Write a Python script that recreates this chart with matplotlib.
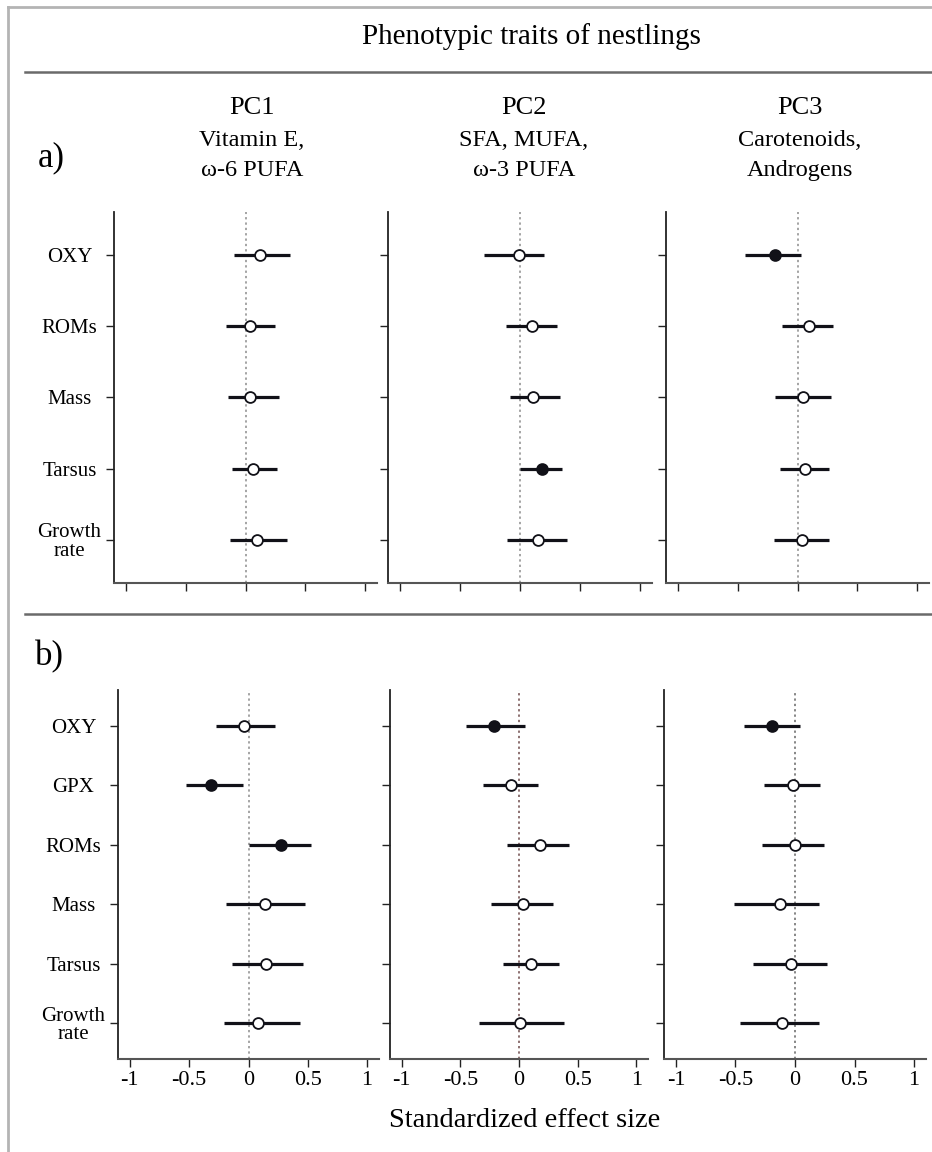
import matplotlib
matplotlib.use('Agg')
import matplotlib.pyplot as plt
from matplotlib.lines import Line2D
import numpy as np

plt.rcParams['font.family'] = ['Liberation Serif', 'DejaVu Serif']

# effect sizes (estimate, lower / upper CI, significant) per principal component
traits_a = ['OXY', 'ROMs', 'Mass', 'Tarsus', 'Growth\nrate']
traits_b = ['OXY', 'GPX', 'ROMs', 'Mass', 'Tarsus', 'Growth\nrate']

pc1_a_est = [0.12, 0.04, 0.04, 0.06, 0.10]
pc1_a_lo = [-0.10, -0.16, -0.15, -0.11, -0.13]
pc1_a_hi = [0.37, 0.25, 0.28, 0.26, 0.35]
pc1_a_sig = [False, False, False, False, False]

pc2_a_est = [-0.01, 0.10, 0.11, 0.18, 0.15]
pc2_a_lo = [-0.30, -0.12, -0.08, 0.00, -0.11]
pc2_a_hi = [0.20, 0.31, 0.33, 0.35, 0.39]
pc2_a_sig = [False, False, False, True, False]

pc3_a_est = [-0.19, 0.10, 0.05, 0.06, 0.04]
pc3_a_lo = [-0.44, -0.13, -0.19, -0.15, -0.20]
pc3_a_hi = [0.03, 0.30, 0.28, 0.26, 0.26]
pc3_a_sig = [True, False, False, False, False]

pc1_b_est = [-0.04, -0.32, 0.27, 0.14, 0.15, 0.08]
pc1_b_lo = [-0.27, -0.53, 0.00, -0.19, -0.14, -0.21]
pc1_b_hi = [0.22, -0.05, 0.53, 0.48, 0.46, 0.43]
pc1_b_sig = [False, True, True, False, False, False]

pc2_b_est = [-0.21, -0.07, 0.18, 0.03, 0.10, 0.01]
pc2_b_lo = [-0.45, -0.31, -0.10, -0.24, -0.14, -0.34]
pc2_b_hi = [0.05, 0.16, 0.43, 0.29, 0.34, 0.38]
pc2_b_sig = [True, False, False, False, False, False]

pc3_b_est = [-0.19, -0.02, 0.00, -0.13, -0.03, -0.11]
pc3_b_lo = [-0.43, -0.26, -0.28, -0.51, -0.35, -0.46]
pc3_b_hi = [0.04, 0.21, 0.24, 0.20, 0.27, 0.20]
pc3_b_sig = [True, False, False, False, False, False]

pc_titles = ['PC1', 'PC2', 'PC3']
pc_loadings = [['Vitamin E,', 'ω-6 PUFA'], ['SFA, MUFA,', 'ω-3 PUFA'], ['Carotenoids,', 'Androgens']]
x_ticks = [-1, -0.5, 0, 0.5, 1]
x_ticklabels = ['-1', '-0.5', '0', '0.5', '1']

W, H = 932, 1152
fig = plt.figure(figsize=(W / 100, H / 100), dpi=100)


def px_box(x0, x1, y0, y1):
    # pixel box (top-left origin) -> figure fraction rect
    return [x0 / W, 1 - y1 / H, (x1 - x0) / W, (y1 - y0) / H]


def fig_line(x0, x1, y0, y1, color, lw):
    fig.add_artist(Line2D([x0 / W, x1 / W], [1 - y0 / H, 1 - y1 / H],
                          transform=fig.transFigure, color=color, lw=lw))


def forest(ax, traits, est, lo, hi, sig, show_ylabels, show_xlabels, zero_color):
    y = np.arange(1, len(traits) + 1)
    ax.axvline(0, color=zero_color, lw=1.1, ls=(0, (1.5, 2)), zorder=1)
    ax.hlines(y, lo, hi, color='#111118', lw=2.3, zorder=2)
    for xi, yi, s in zip(est, y, sig):
        ax.plot(xi, yi, 'o', ms=7.8, mew=1.3, mec='#111118',
                mfc='#111118' if s else 'white', zorder=3)
    ax.set_xlim(-1.1, 1.1)
    ax.set_ylim(len(traits) + 0.6, 0.4)
    ax.set_yticks(y)
    ax.set_xticks(x_ticks)
    for side in ('top', 'right'):
        ax.spines[side].set_visible(False)
    ax.spines['left'].set_color('#222222')
    ax.spines['bottom'].set_color('#555555')
    ax.spines['left'].set_linewidth(1.3)
    ax.spines['bottom'].set_linewidth(1.5)
    ax.tick_params(axis='both', direction='out', length=6, width=1.0, color='#222222')
    if show_ylabels:
        ax.set_yticklabels(traits, fontsize=15, linespacing=0.95)
        ax.tick_params(axis='y', pad=26)
        for lbl in ax.get_yticklabels():
            lbl.set_ha('center')
    else:
        ax.set_yticklabels([])
    if show_xlabels:
        ax.set_xticklabels(x_ticklabels, fontsize=16)
        ax.tick_params(axis='x', pad=3)
    else:
        ax.set_xticklabels([])


rows_a = [
    (pc1_a_est, pc1_a_lo, pc1_a_hi, pc1_a_sig),
    (pc2_a_est, pc2_a_lo, pc2_a_hi, pc2_a_sig),
    (pc3_a_est, pc3_a_lo, pc3_a_hi, pc3_a_sig),
]
rows_b = [
    (pc1_b_est, pc1_b_lo, pc1_b_hi, pc1_b_sig),
    (pc2_b_est, pc2_b_lo, pc2_b_hi, pc2_b_sig),
    (pc3_b_est, pc3_b_lo, pc3_b_hi, pc3_b_sig),
]

cols_a = [(114, 377), (388, 652), (666, 929)]
cols_b = [(118, 379), (390, 648), (664, 926)]
zero_a = ['#8c8c8c', '#8c8c8c', '#8c8c8c']
zero_b = ['#8c8c8c', '#6e4a4a', '#666666']

for i, ((x0, x1), data) in enumerate(zip(cols_a, rows_a)):
    ax = fig.add_axes(px_box(x0, x1, 211.7, 582.7))
    forest(ax, traits_a, *data, show_ylabels=(i == 0), show_xlabels=False, zero_color=zero_a[i])

for i, ((x0, x1), data) in enumerate(zip(cols_b, rows_b)):
    ax = fig.add_axes(px_box(x0, x1, 690, 1058.7))
    forest(ax, traits_b, *data, show_ylabels=(i == 0), show_xlabels=True, zero_color=zero_b[i])

# frame and separators
fig_line(8, W, 7, 7, '#b4b4b4', 2)
fig_line(8, 8, 7, H, '#b4b4b4', 2)
fig_line(25, W, 72, 72, '#6a6a6a', 1.8)
fig_line(25, W, 614, 614, '#6a6a6a', 1.8)

fig.text(531 / W, 1 - 43.5 / H, 'Phenotypic traits of nestlings', fontsize=21,
         ha='center', va='baseline')

heading_x = [252, 524, 800]
for hx, title, lines in zip(heading_x, pc_titles, pc_loadings):
    fig.text(hx / W, 1 - 114.5 / H, title, fontsize=19, ha='center', va='baseline')
    fig.text(hx / W, 1 - 146 / H, lines[0], fontsize=17.5, ha='center', va='baseline')
    fig.text(hx / W, 1 - 176 / H, lines[1], fontsize=17.5, ha='center', va='baseline')

fig.text(38 / W, 1 - 166.5 / H, 'a)', fontsize=25, ha='left', va='baseline')
fig.text(35 / W, 1 - 665 / H, 'b)', fontsize=25, ha='left', va='baseline')

fig.text(525 / W, 1 - 1127 / H, 'Standardized effect size', fontsize=20.5,
         ha='center', va='baseline')

fig.savefig('out.png', dpi=100)
